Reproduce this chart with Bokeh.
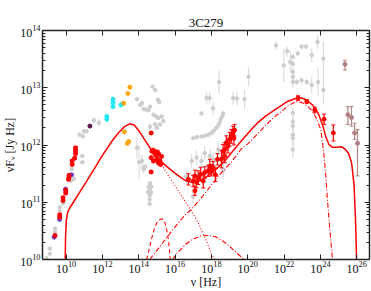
import numpy as np
from bokeh.plotting import figure
from bokeh.models import ColumnDataSource, FixedTicker, LogAxis, Range1d
from bokeh.embed import file_html
from bokeh.resources import INLINE

# ---------------- data (log10 nu [Hz], log10 nuFnu [Jy Hz]) ----------------
# archival (grey)
grey_lognu = [8.92, 9.10, 9.10, 9.39, 9.39, 9.65, 9.65, 9.83, 10.25, 10.43, 10.30, 10.89, 10.89,
              10.74, 10.93, 10.98, 11.12, 11.53, 11.80,
              13.90, 14.08, 14.17, 14.26, 14.39, 14.54, 14.62, 14.76, 14.90, 15.05, 15.12, 14.81,
              14.94, 15.08, 15.26, 15.36, 15.17, 14.99, 14.90, 14.62,
              13.90, 14.02, 14.17, 14.26, 14.35,
              14.62, 14.54, 14.69, 14.60, 14.51, 14.68, 14.60, 14.60, 14.60,
              16.60, 16.91, 17.18, 17.45, 17.63, 17.91, 18.09, 18.37, 18.64, 17.09, 16.99,
              17.00, 17.20, 17.45, 17.63, 17.82, 18.00, 18.13, 18.27, 18.37, 18.45, 18.51, 18.59, 18.64,
              17.45, 17.73, 17.90, 18.09, 18.42, 19.19, 19.41, 19.82, 20.04,
              21.56, 21.98, 22.16, 22.34, 22.75, 22.96, 23.20, 22.70, 22.96, 23.25, 23.52, 23.52,
              23.84, 23.87, 24.16, 24.16,
              22.48, 22.48, 22.48, 22.48, 22.48, 22.48, 22.48, 22.48, 22.48, 22.48, 22.48]
grey_logF = [10.02, 10.10, 10.19, 10.48, 10.54, 10.84, 10.91, 10.98, 11.37, 11.41, 11.58, 11.70, 11.81,
             12.18, 12.15, 12.24, 12.24, 12.43, 12.39,
             12.80, 12.70, 12.73, 12.63, 12.62, 12.61, 12.67, 13.02, 12.96, 12.79, 12.75, 12.53,
             12.50, 12.47, 12.50, 12.42, 12.36, 12.30, 12.36, 12.32,
             11.95, 11.70, 11.72, 11.58, 11.62,
             11.33, 11.27, 11.27, 11.21, 11.18, 11.17, 11.12, 11.05, 10.97,
             11.45, 11.72, 11.78, 11.72, 11.86, 11.81, 11.75, 11.92, 11.55, 11.28, 11.10,
             12.12, 12.14, 12.15, 12.16, 12.18, 12.21, 12.25, 12.30, 12.34, 12.39, 12.45, 12.50, 12.55,
             12.55, 12.82, 12.82, 12.64, 13.10, 12.82, 12.81, 12.80, 13.19,
             13.74, 13.39, 13.64, 13.45, 13.60, 13.72, 13.72, 13.10, 13.13, 13.10, 13.57, 13.05,
             13.80, 13.10, 13.51, 12.96,
             13.54, 13.42, 13.28, 13.19, 13.10, 12.56, 12.41, 12.33, 12.18, 12.12, 11.92]
grey_err = [0.02, 0.02, 0.02, 0.02, 0.02, 0.03, 0.03, 0.03, 0.03, 0.03, 0.03, 0.03, 0.03,
            0.03, 0.03, 0.03, 0.03, 0.05, 0.07,
            0.03, 0.03, 0.03, 0.03, 0.03, 0.03, 0.03, 0.03, 0.03, 0.03, 0.03, 0.03,
            0.03, 0.03, 0.03, 0.03, 0.03, 0.03, 0.03, 0.06,
            0.20, 0.30, 0.12, 0.08, 0.06,
            0.03, 0.03, 0.03, 0.03, 0.03, 0.03, 0.03, 0.03, 0.03,
            0.10, 0.12, 0.12, 0.12, 0.12, 0.12, 0.12, 0.15, 0.15, 0.10, 0.12,
            0.02, 0.02, 0.02, 0.02, 0.02, 0.02, 0.02, 0.02, 0.02, 0.02, 0.02, 0.02, 0.02,
            0.04, 0.10, 0.10, 0.12, 0.20, 0.12, 0.12, 0.17, 0.17,
            0.08, 0.30, 0.10, 0.20, 0.06, 0.04, 0.04, 0.05, 0.06, 0.05, 0.12, 0.15,
            0.12, 0.25, 0.30, 0.25,
            0.05, 0.05, 0.08, 0.08, 0.10, 0.10, 0.10, 0.10, 0.12, 0.12, 0.15]

# simultaneous (red)
red_lognu = [9.39, 9.65, 9.65, 9.83, 9.83, 9.98, 9.98, 10.13, 10.16, 10.16, 10.33, 10.33, 10.47,
             10.52, 10.52, 10.52,
             14.68,
             14.72, 14.80, 14.87, 14.94, 15.02, 15.10, 14.68, 14.81, 14.99, 15.08, 15.17, 15.25, 15.20, 14.68,
             16.73, 16.99, 17.09, 17.09, 17.18, 17.27, 17.41, 17.55, 17.63, 17.82, 17.91, 18.00, 18.09,
             18.22, 18.33, 18.55, 18.64, 18.73, 18.82, 18.91, 19.00, 19.09, 19.18, 19.27, 19.24, 18.73,
             22.77, 23.25, 23.69, 24.20, 24.71]
red_logF = [10.42, 10.74, 10.78, 11.03, 11.08, 11.16, 11.21, 11.40, 11.43, 11.47, 11.66, 11.72, 11.77,
            11.85, 11.90, 11.95,
            12.21,
            11.89, 11.91, 11.86, 11.82, 11.88, 11.84, 11.78, 11.72, 11.75, 11.69, 11.72, 11.80, 11.66, 11.53,
            11.40, 11.37, 11.46, 11.20, 11.35, 11.43, 11.49, 11.37, 11.52, 11.55, 11.63, 11.56, 11.61,
            11.48, 11.75, 11.75, 11.89, 11.92, 12.04, 11.98, 12.10, 12.15, 12.21, 12.26, 12.12, 11.81,
            12.82, 12.76, 12.61, 12.45, 12.21]
red_err = [0.02, 0.02, 0.02, 0.02, 0.02, 0.02, 0.02, 0.02, 0.02, 0.02, 0.02, 0.02, 0.02,
           0.02, 0.02, 0.02,
           0.02,
           0.02, 0.02, 0.02, 0.02, 0.02, 0.02, 0.02, 0.02, 0.02, 0.02, 0.02, 0.02, 0.02, 0.02,
           0.10, 0.10, 0.10, 0.08, 0.10, 0.12, 0.12, 0.12, 0.10, 0.10, 0.12, 0.10, 0.10,
           0.12, 0.10, 0.15, 0.12, 0.12, 0.12, 0.12, 0.12, 0.12, 0.12, 0.10, 0.12, 0.12,
           0.04, 0.03, 0.05, 0.09, 0.14]

purple_lognu = [9.34, 9.64, 9.97, 10.30]
purple_logF = [10.39, 10.70, 11.23, 11.48]
maroon_lognu = [11.31]
maroon_logF = [12.33]
cyan_lognu = [12.24, 12.24, 12.58, 12.58, 12.58, 13.02, 13.11]
cyan_logF = [12.45, 12.50, 12.67, 12.74, 12.80, 12.70, 12.72]
orange_lognu = [13.51, 13.40, 13.17, 13.20, 13.44, 13.37]
orange_logF = [13.01, 12.90, 12.73, 12.23, 12.06, 12.03]

tev_lognu = [25.35, 25.51, 25.71, 25.88, 26.04]
tev_logF = [13.41, 12.53, 12.48, 12.21, 12.03]
tev_lo = [13.31, 12.36, 12.33, 12.10, 11.46]
tev_hi = [13.48, 12.67, 12.67, 12.38, 12.27]

# model components
tot_lognu = [9.95, 9.97, 10.01, 10.08, 10.20, 10.60, 11.10, 11.54, 12.00, 12.53, 12.90, 13.20, 13.50,
             13.75, 14.00, 14.35, 14.72, 15.00, 15.26, 15.63, 15.99, 16.36, 16.63, 16.91, 17.27, 17.63,
             18.00, 18.37, 18.73, 19.09, 19.64, 20.19, 20.55, 21.00, 21.46, 21.90, 22.19, 22.50, 22.75,
             23.00, 23.20, 23.56, 23.87, 24.11, 24.29, 24.47, 24.65, 24.90, 25.15, 25.35, 25.55, 25.72,
             25.85, 25.93, 25.99]
tot_logF = [10.00, 10.40, 10.68, 10.82, 10.90, 11.10, 11.35, 11.58, 11.82, 12.07, 12.22, 12.32, 12.37,
            12.35, 12.25, 12.08, 11.90, 11.80, 11.70, 11.60, 11.51, 11.42, 11.37, 11.35, 11.37, 11.42,
            11.51, 11.61, 11.72, 11.86, 12.07, 12.27, 12.39, 12.51, 12.61, 12.70, 12.76, 12.80, 12.82,
            12.82, 12.79, 12.70, 12.56, 12.36, 12.15, 12.01, 11.96, 11.96, 11.97, 11.93, 11.85, 11.68,
            11.30, 10.70, 10.00]
syn_lognu = [15.00, 15.36, 15.70, 16.18, 16.60, 16.91, 17.30, 17.70, 18.00, 18.18]
syn_logF = [11.79, 11.60, 11.43, 11.20, 10.99, 10.85, 10.62, 10.35, 10.10, 10.00]
disk_lognu = [14.44, 14.60, 14.72, 14.85, 14.99, 15.15, 15.30, 15.40, 15.48, 15.56, 15.63, 15.69, 15.73]
disk_logF = [10.00, 10.22, 10.38, 10.53, 10.64, 10.70, 10.71, 10.68, 10.60, 10.48, 10.34, 10.17, 10.00]
ssc_lognu = [15.85, 16.20, 16.60, 17.00, 17.40, 17.80, 18.20, 18.60, 19.00, 19.40, 19.80]
ssc_logF = [10.00, 10.14, 10.27, 10.36, 10.41, 10.42, 10.40, 10.33, 10.23, 10.11, 10.00]
ec_lognu = [14.60, 15.00, 15.50, 16.00, 16.50, 16.91, 17.50, 18.00, 18.50, 19.09, 19.64, 20.00, 20.50,
            21.00, 21.50, 21.83, 22.20, 22.65, 23.00, 23.30, 23.56, 23.80, 24.02, 24.11, 24.20, 24.30,
            24.38, 24.52, 24.66]
ec_logF = [10.00, 10.16, 10.37, 10.57, 10.76, 10.88, 11.10, 11.30, 11.50, 11.70, 11.93, 12.02, 12.18,
           12.35, 12.50, 12.58, 12.68, 12.76, 12.74, 12.68, 12.59, 12.45, 12.27, 12.05, 11.80, 11.45,
           11.06, 10.52, 10.00]

x_ticks = [1e10, 1e12, 1e14, 1e16, 1e18, 1e20, 1e22, 1e24, 1e26]
y_ticks = [1e10, 1e11, 1e12, 1e13, 1e14]
title_text = "3C279"
x_label = "ν [Hz]"
y_label = "νFᵥ [Jy Hz]"


def P(a):
    return 10.0 ** np.asarray(a, dtype=float)


FONT = "Liberation Serif"

p = figure(width=371, height=291, x_axis_type="log", y_axis_type="log",
           x_range=Range1d(10 ** 8.7, 10 ** 26.7), y_range=Range1d(1e10, 1e14),
           output_backend="svg", toolbar_location=None, title=title_text,
           min_border_left=40, min_border_right=2, min_border_top=30, min_border_bottom=30,
           background_fill_color="white", border_fill_color="white")
p.outline_line_color = None
p.xgrid.visible = False
p.ygrid.visible = False
p.title.align = "center"
p.title.vertical_align = "middle"
p.title.text_font = FONT
p.title.text_font_size = "13px"
p.title.text_font_style = "normal"
p.title.text_color = "#111111"
p.title.standoff = 0

y_minor = [k * 10.0 ** d for d in range(10, 14) for k in range(2, 10)]
xt = FixedTicker(ticks=x_ticks, minor_ticks=[])
yt = FixedTicker(ticks=y_ticks, minor_ticks=y_minor)


def style_axis(ax, labels=True):
    ax.major_tick_in = 5
    ax.major_tick_out = 0
    ax.minor_tick_in = 3
    ax.minor_tick_out = 0
    ax.axis_line_width = 1.5
    ax.axis_line_color = "#222222"
    ax.major_tick_line_color = "#222222"
    ax.minor_tick_line_color = "#222222"
    ax.major_label_text_font = FONT
    ax.major_label_text_font_size = "12px" if labels else "1px"
    ax.major_label_text_color = "#111111"
    ax.major_label_text_alpha = 1.0 if labels else 0.0
    ax.major_label_standoff = 2 if labels else 0
    ax.axis_label_text_font = FONT
    ax.axis_label_text_font_style = "normal"
    ax.axis_label_text_color = "#111111"
    ax.axis_label_standoff = 0


p.xaxis.ticker = xt
p.yaxis.ticker = yt
style_axis(p.xaxis[0])
style_axis(p.yaxis[0])
p.xaxis.axis_label = x_label
p.yaxis.axis_label = y_label
p.xaxis.axis_label_text_font_size = "12px"
p.yaxis.axis_label_text_font_size = "12px"
p.xaxis.major_label_standoff = 1
p.xaxis.axis_label_standoff = -1
top = LogAxis(ticker=FixedTicker(ticks=x_ticks, minor_ticks=[]))
right = LogAxis(ticker=FixedTicker(ticks=y_ticks, minor_ticks=y_minor))
style_axis(top, labels=False)
style_axis(right, labels=False)
top.major_label_standoff = 11
p.add_layout(top, "above")
p.add_layout(right, "right")


def errsrc(lognu, logF, lo, hi):
    return ColumnDataSource(dict(x=P(lognu), y=P(logF), lo=P(lo), hi=P(hi)))


# grey archival
ge = np.asarray(grey_err)
gs = errsrc(grey_lognu, grey_logF, np.asarray(grey_logF) - ge, np.asarray(grey_logF) + ge)
p.segment(x0="x", y0="lo", x1="x", y1="hi", source=gs, line_color="#dcdcdc", line_width=1.2)
p.scatter("x", "y", source=gs, size=3.5, fill_color="#cdcdcd", line_color="#cdcdcd")

# model curves
RED = "#ff0000"
p.line(P(syn_lognu), P(syn_logF), line_color=RED, line_width=1.1, line_dash="1 2")
p.line(P(disk_lognu), P(disk_logF), line_color=RED, line_width=1.1, line_dash="4 3")
p.line(P(ssc_lognu), P(ssc_logF), line_color=RED, line_width=1.1, line_dash="5 2 1 2")
p.line(P(ec_lognu), P(ec_logF), line_color=RED, line_width=1.1, line_dash="5 2 1 2")
p.line(P(tot_lognu), P(tot_logF), line_color=RED, line_width=1.5)

# other coloured data
for ln, lf, col in [(purple_lognu, purple_logF, "#7040c8"), (maroon_lognu, maroon_logF, "#5c1048"),
                    (cyan_lognu, cyan_logF, "#20e8f8"), (orange_lognu, orange_logF, "#ffa500")]:
    s = errsrc(ln, lf, np.asarray(lf) - 0.03, np.asarray(lf) + 0.03)
    p.segment(x0="x", y0="lo", x1="x", y1="hi", source=s, line_color=col, line_width=1.2)
    p.scatter("x", "y", source=s, size=4, fill_color=col, line_color=col)

ts = errsrc(tev_lognu, tev_logF, tev_lo, tev_hi)
p.segment(x0="x", y0="lo", x1="x", y1="hi", source=ts, line_color="#b08585", line_width=1.2)
p.scatter("x", "lo", source=ts, marker="dash", size=4, line_color="#b08585")
p.scatter("x", "hi", source=ts, marker="dash", size=4, line_color="#b08585")
p.scatter("x", "y", source=ts, size=4, fill_color="#b08080", line_color="#b08080")

# red simultaneous
re_ = np.asarray(red_err)
rs = errsrc(red_lognu, red_logF, np.asarray(red_logF) - re_, np.asarray(red_logF) + re_)
p.segment(x0="x", y0="lo", x1="x", y1="hi", source=rs, line_color=RED, line_width=1.2)
p.scatter("x", "lo", source=rs, marker="dash", size=4, line_color=RED)
p.scatter("x", "hi", source=rs, marker="dash", size=4, line_color=RED)
p.scatter("x", "y", source=rs, size=4, fill_color=RED, line_color=RED)

open("out.html", "w").write(file_html(p, INLINE))
